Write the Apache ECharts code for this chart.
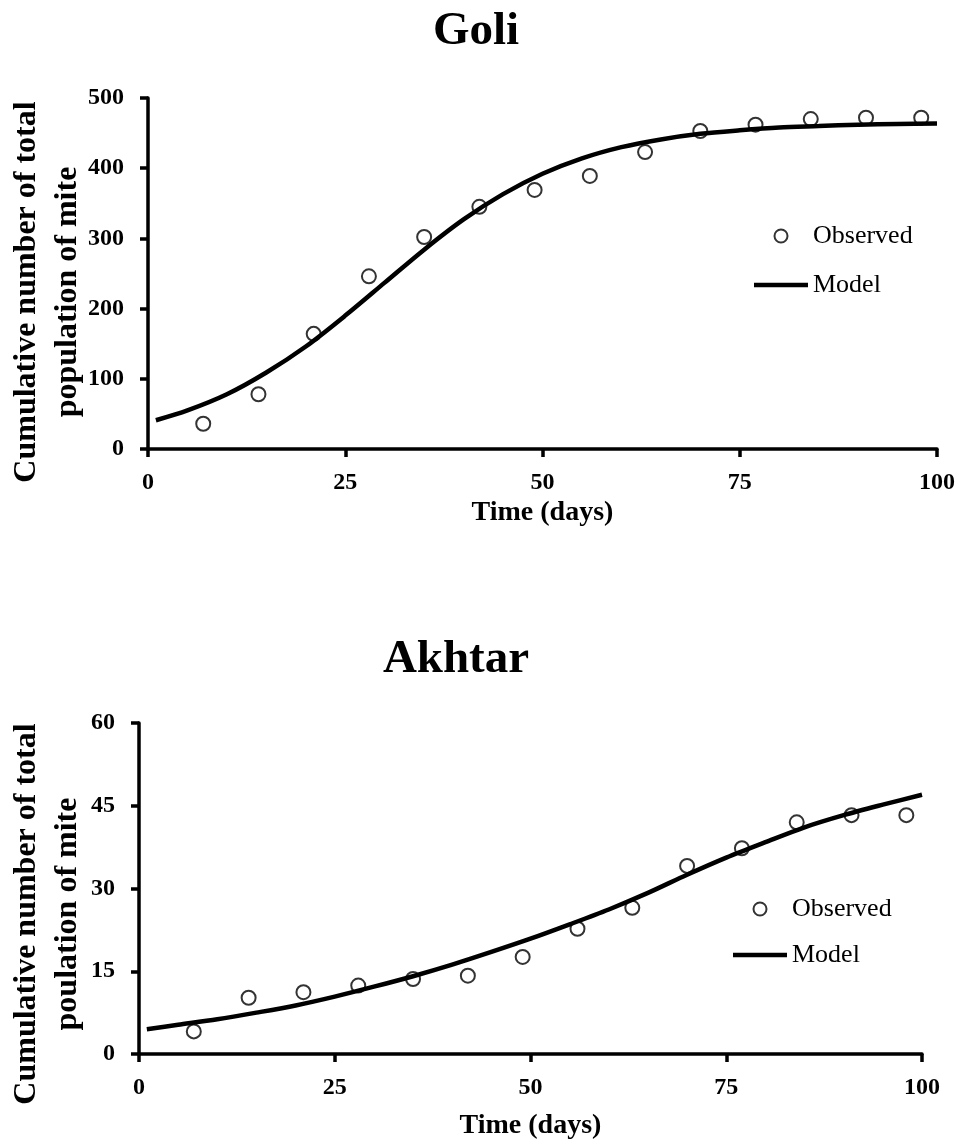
<!DOCTYPE html>
<html><head><meta charset="utf-8">
<script src="https://cdn.jsdelivr.net/npm/echarts@6/dist/echarts.min.js"></script>
<style>html,body{margin:0;padding:0;background:#fff}#c{width:958px;height:1144px}</style>
</head><body><div id="c"></div>
<script>
// ---- data ----
const obsDays = [7, 14, 21, 28, 35, 42, 49, 56, 63, 70, 77, 84, 91, 98];
const goliObserved = [36, 78, 164, 246, 302, 345, 369, 389, 423, 453, 462, 470, 472, 472];
const akhtarObserved = [4.1, 10.2, 11.2, 12.4, 13.6, 14.2, 17.6, 22.7, 26.5, 34.1, 37.3, 42.0, 43.3, 43.3];
const modelDays = [1, 5, 10, 15, 20, 25, 30, 35, 40, 45, 50, 55, 60, 65, 70, 75, 80, 85, 90, 95, 100];
const goliModel = [41, 55, 78, 109, 146, 190, 237, 284, 327, 363, 392, 414, 430, 441, 449, 454, 458, 460, 462, 463, 463.5];
const akhtarModel = [4.5, 5.3, 6.3, 7.5, 8.8, 10.4, 12.2, 14.1, 16.2, 18.5, 20.9, 23.5, 26.2, 29.2, 32.5, 35.6, 38.4, 41.1, 43.3, 45.2, 47.0];
const xTicks = [0, 25, 50, 75, 100];
const goliYTicks = [0, 100, 200, 300, 400, 500];
const akhtarYTicks = [0, 15, 30, 45, 60];
const titles = ['Goli', 'Akhtar'];
const yNames = ['Cumulative number of total\npopulation of mite', 'Cumulative number of total\npoulation of mite'];
const xName = 'Time (days)';
const seriesNames = ['Observed', 'Model'];

const FONT = '"Liberation Serif", "Times New Roman", serif';
const pairs = (xs, ys) => xs.map((x, i) => [x, ys[i]]);

function xAxis(gi, gap) {
  return {
    type: 'value', gridIndex: gi,
    min: xTicks[0], max: xTicks[xTicks.length - 1], interval: xTicks[1] - xTicks[0],
    axisLine: { show: true, lineStyle: { color: '#000', width: 3.5 } },
    axisTick: { show: true, inside: false, length: 8, lineStyle: { color: '#000', width: 3.5 } },
    axisLabel: { margin: 22, color: '#000', fontSize: 24, fontWeight: 'bold', fontFamily: FONT },
    splitLine: { show: false },
    name: xName, nameLocation: 'middle', nameGap: gap,
    nameTextStyle: { color: '#000', fontSize: 28, fontWeight: 'bold', fontFamily: FONT }
  };
}
function yAxis(gi, ticks) {
  return {
    type: 'value', gridIndex: gi,
    min: ticks[0], max: ticks[ticks.length - 1], interval: ticks[1] - ticks[0],
    axisLine: { show: true, lineStyle: { color: '#000', width: 3.5 } },
    axisTick: { show: true, inside: false, length: 8, lineStyle: { color: '#000', width: 3.5 } },
    axisLabel: { margin: 24, color: '#000', fontSize: 24, fontWeight: 'bold', fontFamily: FONT },
    splitLine: { show: false }
  };
}
function scatter(gi, ys) {
  return {
    name: seriesNames[0], type: 'scatter', xAxisIndex: gi, yAxisIndex: gi,
    data: pairs(obsDays, ys), symbol: 'circle', symbolSize: 14,
    itemStyle: { color: '#fff', borderColor: '#000', borderWidth: 2 }, z: 2
  };
}
function line(gi, ys) {
  return {
    name: seriesNames[1], type: 'line', xAxisIndex: gi, yAxisIndex: gi,
    data: pairs(modelDays, ys), smooth: 0.3, symbol: 'none', showSymbol: false,
    lineStyle: { color: '#000', width: 4.5 }, itemStyle: { color: '#000' }, z: 3
  };
}
function legend(left, top, gap) {
  return {
    orient: 'vertical', left: left, top: top, itemWidth: 54, itemHeight: 13, itemGap: gap,
    padding: 0, selectedMode: false, symbolKeepAspect: true,
    data: [
      { name: seriesNames[0], icon: 'circle', itemStyle: { color: '#fff', borderColor: '#000', borderWidth: 2 } },
      { name: seriesNames[1], icon: 'path://M0,0L54,0L54,4.5L0,4.5Z', itemStyle: { color: '#000', borderWidth: 0 } }
    ],
    textStyle: { color: '#000', fontSize: 26, fontFamily: FONT }
  };
}

const chart = echarts.init(document.getElementById('c'));
chart.setOption({
  backgroundColor: '#fff',
  animation: false,
  title: [
    { text: titles[0], left: 476, top: 8, padding: 0, textAlign: 'center', textStyle: { color: '#000', fontSize: 47, fontWeight: 'bold', fontFamily: FONT } },
    { text: titles[1], left: 456, top: 636, padding: 0, textAlign: 'center', textStyle: { color: '#000', fontSize: 47, fontWeight: 'bold', fontFamily: FONT } }
  ],
  grid: [
    { left: 148, right: 20, top: 98, height: 351 },
    { left: 139, right: 36, top: 723, height: 331 }
  ],
  xAxis: [xAxis(0, 50), xAxis(1, 58)],
  yAxis: [yAxis(0, goliYTicks), yAxis(1, akhtarYTicks)],
  legend: [legend(754, 223, 23), legend(733, 896, 20)],
  graphic: [
    { type: 'text', x: 47, y: 292, rotation: Math.PI / 2,
      style: { text: yNames[0], font: 'bold 32px ' + FONT, textAlign: 'center', textVerticalAlign: 'middle', lineHeight: 41, fill: '#000' } },
    { type: 'text', x: 47, y: 914, rotation: Math.PI / 2,
      style: { text: yNames[1], font: 'bold 32px ' + FONT, textAlign: 'center', textVerticalAlign: 'middle', lineHeight: 41, fill: '#000' } }
  ],
  series: [scatter(0, goliObserved), line(0, goliModel), scatter(1, akhtarObserved), line(1, akhtarModel)]
});
</script></body></html>
